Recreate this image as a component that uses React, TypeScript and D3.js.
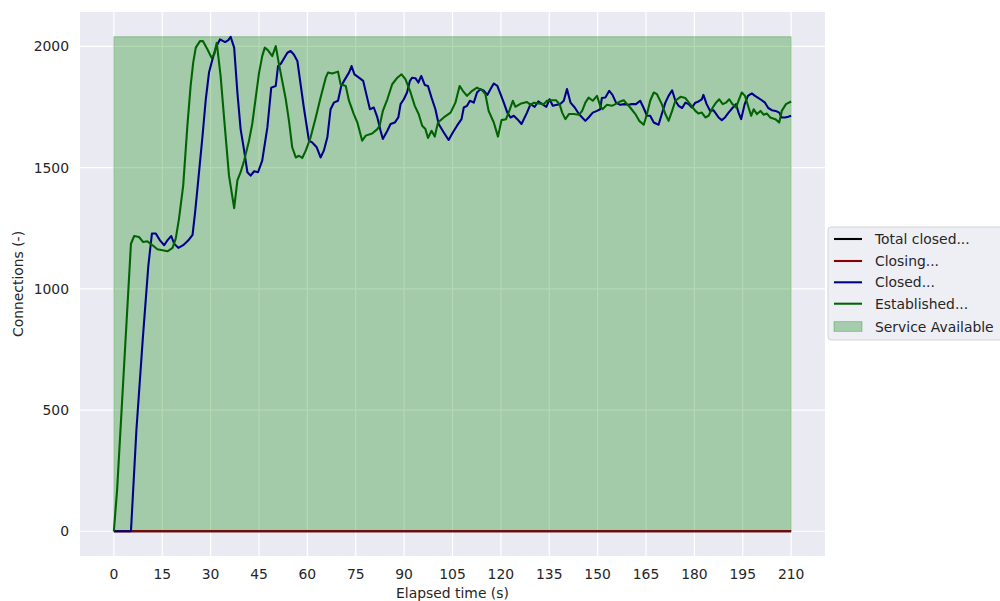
import React from "react";
import * as d3 from "d3";

// ---- Data ----
const totalClosedTime = [0, 210];
const totalClosedValues = [0, 0];

const closingTime = [0, 210];
const closingValues = [0, 0];

const closedTime = [
  0, 5.3, 7, 9, 10.7, 11.8, 13, 14.3, 15.6, 16.6, 17.8, 18.7, 20, 21.5, 23.1, 24.4, 25.2, 26.2, 27.5, 28.5,
  29.5, 30.7, 31.8, 32.9, 34.5, 35.5, 36.2, 37.3, 38.3, 39.3, 40.4, 41.4, 42.4, 43.5, 44.7, 46, 47.6, 48.8,
  50.2, 50.9, 51.8, 52.6, 53.8, 54.8, 55.8, 56.9, 57.9, 58.9, 60.5, 61.5, 62.9, 64.1, 65.1, 66.2, 67.2, 68.2,
  69.5, 70.5, 71.5, 72.9, 73.7, 74.6, 76, 77.3, 78.4, 79.4, 80.6, 81.7, 82.7, 83.4, 84.8, 85.8, 87.1, 88.2,
  88.9, 89.9, 90.9, 91.8, 92.5, 93.5, 94.4, 95.3, 96.4, 97.4, 98.5, 99.7, 100.7, 102.3, 103.8, 105.1, 106.4,
  107.8, 108.5, 109.5, 110.4, 111.6, 112.6, 113.7, 114.7, 115.8, 116.8, 117.8, 118.9, 119.9, 120.9, 122, 123,
  124, 125.1, 126.4, 128.1, 129.2, 130.5, 131.6, 132.8, 134.1, 135.1, 136.1, 137.4, 138.4, 139.5, 140.5,
  141.6, 142.9, 144.2, 145.2, 146.2, 147.2, 148.5, 149.8, 150.8, 151.3, 152.4, 153.6, 154.6, 155.7, 157,
  158.3, 159.6, 160.6, 161.9, 163.2, 164.2, 165.3, 166.3, 167.4, 168.9, 169.9, 171, 172, 173.1, 174.1, 175.1,
  176.2, 177.2, 178.2, 179.2, 180.3, 181.3, 182.3, 182.8, 183.8, 184.9, 185.9, 187.5, 188.5, 189.5, 190.6,
  191.8, 192.9, 193.7, 194.5, 195.6, 196.6, 197.8, 198.8, 199.9, 200.9, 201.9, 202.9, 204, 205.2, 206.3,
  207.1, 208.1, 209.1, 210,
];
const closedValues = [
  0, 0, 420, 800, 1097, 1228, 1228, 1200, 1180, 1200, 1218, 1186, 1169, 1180, 1200, 1223, 1316, 1453, 1632, 1782,
  1892, 1953, 2001, 2029, 2018, 2026, 2040, 1995, 1810, 1659, 1570, 1481, 1467, 1485, 1481, 1529, 1666, 1830,
  1837, 1919, 1929, 1947, 1974, 1981, 1967, 1940, 1844, 1748, 1611, 1604, 1584, 1542, 1570, 1625, 1741, 1768,
  1776, 1837, 1861, 1892, 1919, 1885, 1871, 1858, 1796, 1741, 1748, 1707, 1652, 1618, 1652, 1680, 1686, 1707,
  1762, 1782, 1810, 1858, 1871, 1869, 1851, 1878, 1841, 1837, 1789, 1741, 1680, 1645, 1614, 1645, 1673,
  1700, 1748, 1755, 1776, 1768, 1810, 1824, 1817, 1800, 1824, 1847, 1837, 1803, 1768, 1727, 1707,
  1714, 1700, 1680, 1727, 1762, 1751, 1773, 1762, 1751, 1782, 1755, 1759, 1762, 1776, 1824,
  1768, 1748, 1721, 1707, 1693, 1707, 1727, 1734, 1741, 1787, 1789, 1817, 1800, 1768, 1759,
  1762, 1759, 1762, 1762, 1776, 1748, 1714, 1714, 1686, 1677, 1721, 1768, 1796, 1819, 1776, 1755,
  1746, 1768, 1762, 1748, 1768, 1773, 1782, 1800, 1762, 1734, 1737, 1707, 1696, 1707, 1727,
  1746, 1762, 1727, 1700, 1762, 1796, 1806, 1796, 1787, 1778, 1768, 1746, 1737, 1734, 1727,
  1707, 1707, 1710, 1714,
];

const establishedTime = [
  0, 1, 5.3, 6.3, 7.8, 9.1, 10.4, 12, 13.5, 15.1, 16.6, 18.2, 19.2, 20.2, 21.5, 22.8, 23.8, 24.6, 25.4, 26.7,
  27.6, 29, 30.3, 31.1, 31.9, 33.1, 34.2, 35.7, 37.3, 38.3, 39.3, 40.4, 41.9, 42.9, 44, 45, 46, 46.8, 47.8,
  49.1, 50.2, 51.2, 52.2, 53.3, 54.3, 55.3, 56.4, 57.4, 58.4, 59.5, 61, 62.6, 64.1, 65.7, 66.4, 67.7, 69.5,
  70.3, 71.9, 72.9, 74.4, 75.5, 77, 78.1, 80.1, 81.7, 82.4, 83.4, 84.8, 86.3, 87.9, 89.2, 90.4, 92, 93.3,
  94.5, 95.6, 96.6, 97.4, 98.5, 99.5, 100.5, 102.3, 104.4, 105.9, 107.2, 108.2, 109.5, 111.1, 112.6, 114.2,
  115.2, 116.2, 117.8, 119.1, 120.2, 121.6, 122.7, 123.7, 124.5, 126.3, 128.1, 129.2, 130.2, 131.7, 133.3,
  134.3, 135.9, 137.1, 138.2, 139, 140, 141.1, 142.6, 144.2, 145.2, 146.2, 147.2, 148.5, 149.8, 150.8, 151.5,
  152.9, 154.4, 155.5, 157, 158.1, 159.1, 160.1, 161.7, 162.9, 164.3, 165.3, 166.3, 167.4, 168.4, 169.9, 171,
  172, 173.1, 174.1, 175.7, 177.2, 178.7, 180.3, 181.3, 182.3, 183.4, 184.4, 185.7, 186.7, 187.7, 188.8,
  189.8, 190.8, 191.8, 192.9, 193.7, 194.7, 195.7, 196.8, 197.6, 198.4, 199.4, 200.5, 201.5, 202.5, 203.5,
  205.1, 206.3, 207.1, 208.4, 210,
];
const establishedValues = [
  0, 170, 1186, 1218, 1214, 1193, 1196, 1180, 1163, 1159, 1155, 1169, 1208, 1290, 1426, 1673, 1837, 1933, 1995, 2022,
  2022, 1988, 1953, 1967, 2015, 1878, 1701, 1467, 1333, 1447, 1481, 1529, 1611, 1680, 1790, 1890, 1960, 1995, 1984,
  1960, 2001, 1926, 1858, 1782, 1693, 1584, 1542, 1549, 1540, 1570, 1625, 1707, 1789, 1871, 1892, 1888, 1896,
  1844, 1837, 1776, 1721, 1686, 1611, 1632, 1641, 1659, 1673, 1734, 1782, 1844, 1871, 1885, 1865, 1810, 1755,
  1721, 1673, 1659, 1622, 1652, 1628, 1686, 1707, 1727, 1768, 1837, 1817, 1796, 1817, 1830, 1819,
  1803, 1734, 1686, 1628, 1696, 1700, 1737, 1776, 1751, 1765, 1771, 1759, 1768, 1765, 1762,
  1776, 1778, 1778, 1762, 1727, 1700, 1721, 1721, 1718, 1734, 1768, 1789, 1776, 1796, 1755, 1741,
  1759, 1755, 1762, 1773, 1778, 1762, 1748, 1721, 1693, 1677, 1721, 1776, 1810, 1803, 1762, 1721,
  1693, 1734, 1776, 1792, 1787, 1762, 1734, 1723, 1727, 1707, 1714, 1748, 1768, 1782, 1762,
  1768, 1782, 1762, 1748, 1776, 1810, 1796, 1748, 1714, 1741, 1721, 1734, 1718, 1723, 1707,
  1700, 1686, 1734, 1762, 1773,
];

const serviceTime = [0, 210];

const xTicks = [0, 15, 30, 45, 60, 75, 90, 105, 120, 135, 150, 165, 180, 195, 210];
const yTicks = [0, 500, 1000, 1500, 2000];

const legendLabels = ["Total closed...", "Closing...", "Closed...", "Established...", "Service Available"];
const seriesColors = ["#000000", "#8b0000", "#00008b", "#006400"];

// ---- Layout ----
const W = 1000;
const H = 601;
const axL = 80;
const axR = 825;
const axT = 12;
const axB = 556;
const FONT = "'DejaVu Sans', sans-serif";
const TEXT = "#262626";
const LW = 2.08;

export default function App() {
  const serviceLevel = Math.max(d3.max(closedValues) ?? 0, d3.max(establishedValues) ?? 0);
  const xMin = 0, xMax = 210;
  const xPad = (xMax - xMin) * 0.05;
  const yPad = serviceLevel * 0.05;

  const x = d3.scaleLinear().domain([xMin - xPad, xMax + xPad]).range([axL, axR]);
  const y = d3.scaleLinear().domain([-yPad, serviceLevel + yPad]).range([axB, axT]);

  const line = d3
    .line<[number, number]>()
    .x((d) => x(d[0]))
    .y((d) => y(d[1]));

  const zip = (t: number[], v: number[]) => t.map((tt, i) => [tt, v[i]] as [number, number]);

  const area = d3
    .area<number>()
    .x((d) => x(d))
    .y0(() => y(0))
    .y1(() => y(serviceLevel));

  const series = [
    zip(totalClosedTime, totalClosedValues),
    zip(closingTime, closingValues),
    zip(closedTime, closedValues),
    zip(establishedTime, establishedValues),
  ];

  const legX = 828;
  const legY = 227;
  const rowY = [239, 261, 282.3, 303.7, 326.5];

  return (
    <svg
      width={W}
      height={H}
      style={{ position: "absolute", left: 0, top: 0, display: "block", background: "#ffffff" }}
      fontFamily={FONT}
    >
      <rect x={0} y={0} width={W} height={H} fill="#ffffff" />
      <rect x={axL} y={axT} width={axR - axL} height={axB - axT} fill="#eaeaf2" />
      {xTicks.map((t) => (
        <line key={"gx" + t} x1={x(t)} x2={x(t)} y1={axT} y2={axB} stroke="#ffffff" strokeWidth={1.2} />
      ))}
      {yTicks.map((t) => (
        <line key={"gy" + t} x1={axL} x2={axR} y1={y(t)} y2={y(t)} stroke="#ffffff" strokeWidth={1.2} />
      ))}
      <path
        d={area(serviceTime) ?? ""}
        fill="#008000"
        fillOpacity={0.3}
        stroke="#008000"
        strokeOpacity={0.3}
        strokeWidth={1}
      />
      {series.map((s, i) => (
        <path
          key={"s" + i}
          d={line(s) ?? ""}
          fill="none"
          stroke={seriesColors[i]}
          strokeWidth={LW}
          strokeLinejoin="round"
          strokeLinecap="butt"
        />
      ))}
      {xTicks.map((t) => (
        <text
          key={"tx" + t}
          x={x(t)}
          y={574}
          textAnchor="middle"
          dominantBaseline="central"
          fontSize={13.9}
          fill={TEXT}
        >
          {t}
        </text>
      ))}
      {yTicks.map((t) => (
        <text
          key={"ty" + t}
          x={69}
          y={y(t)}
          textAnchor="end"
          dominantBaseline="central"
          fontSize={13.9}
          fill={TEXT}
        >
          {t}
        </text>
      ))}
      <text x={(axL + axR) / 2} y={593} textAnchor="middle" dominantBaseline="central" fontSize={13.9} fill={TEXT}>
        Elapsed time (s)
      </text>
      <text
        transform={`translate(18,${(axT + axB) / 2}) rotate(-90)`}
        textAnchor="middle"
        dominantBaseline="central"
        fontSize={13.9}
        fill={TEXT}
      >
        Connections (-)
      </text>

      {/* Legend */}
      <rect
        x={legX}
        y={legY}
        width={200}
        height={113}
        rx={3}
        fill="#eaeaf2"
        fillOpacity={0.8}
        stroke="#cccccc"
        strokeOpacity={0.8}
        strokeWidth={1}
      />
      {legendLabels.map((lab, i) => (
        <g key={"lg" + i}>
          {i < 4 ? (
            <line x1={834} x2={862} y1={rowY[i]} y2={rowY[i]} stroke={seriesColors[i]} strokeWidth={LW} />
          ) : (
            <rect
              x={834}
              y={rowY[i] - 4.9}
              width={28}
              height={9.8}
              fill="#008000"
              fillOpacity={0.3}
              stroke="#008000"
              strokeOpacity={0.3}
            />
          )}
          <text x={875} y={rowY[i]} dominantBaseline="central" fontSize={13.9} fill={TEXT}>
            {lab}
          </text>
        </g>
      ))}
    </svg>
  );
}
